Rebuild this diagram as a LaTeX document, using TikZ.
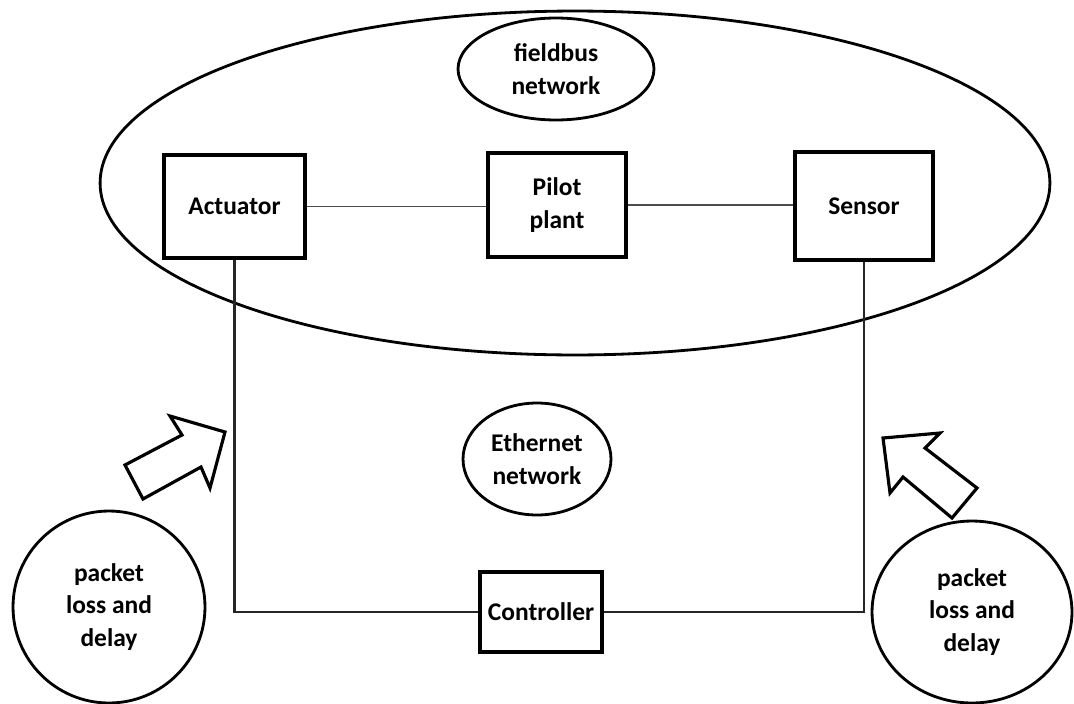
\documentclass[tikz,border=0pt]{standalone}
\usepackage{fontspec}
\setmainfont{Carlito}
\usetikzlibrary{shapes.geometric}

\tikzset{
	labelfont/.style={font=\fontsize{14.5}{18.5}\selectfont\bfseries},
	blockbox/.style={draw, line width=2.2pt, align=center, labelfont},
	netcloud/.style={draw, ellipse, line width=1.6pt, align=center, labelfont, inner sep=0pt},
	link/.style={line width=1.1pt, black!70},
	bus/.style={line width=1.2pt, black!85},
	fatarrow/.style={draw, line width=1.8pt, line join=miter, fill=white}
}

\begin{document}
\begin{tikzpicture}[x=0.02cm, y=-0.02cm]
	\useasboundingbox (0,0) rectangle (1074,703);
	\clip (0,0) rectangle (1074,703);

	% plant side
	\node[netcloud, minimum width=19cm, minimum height=6.88cm] (plantnet) at (575,183){};
	\node[netcloud, minimum width=3.92cm, minimum height=2.04cm] (fieldbus) at (556,69){fieldbus\\network};

	\node[blockbox, minimum width=2.82cm, minimum height=2.06cm] (act) at (234.5,206.5){Actuator};
	\node[blockbox, minimum width=2.76cm, minimum height=2.08cm] (plant) at (557,205){Pilot\\plant};
	\node[blockbox, minimum width=2.76cm, minimum height=2.16cm] (sens) at (864,206){Sensor};

	\draw[link] (act.east) -- (act.east -| plant.west);
	\draw[link] (plant.east) -- (plant.east -| sens.west);

	% ethernet side
	\node[netcloud, minimum width=2.96cm, minimum height=2.24cm] (ether) at (537,459){Ethernet\\network};
	\node[blockbox, minimum width=2.44cm, minimum height=1.6cm] (ctrl) at (541,612){Controller};

	\draw[bus] (act.south) |- (ctrl.west);
	\draw[bus] (sens.south) |- (ctrl.east);

	% disturbances
	\node[netcloud, minimum width=3.84cm, minimum height=3.84cm] (lossl) at (109,607){packet\\loss and\\delay};
	\node[netcloud, minimum width=4.0cm, minimum height=3.64cm] (lossr) at (972,612){packet\\loss and\\delay};

	\draw[fatarrow] (225,432) -- (170,416) -- (182,435) -- (125,465) -- (143,499) -- (201,467) -- (210,488) -- cycle;
	\draw[fatarrow] (883,438) -- (940,433) -- (925,448) -- (977,488) -- (952,518) -- (903,477) -- (890,493) -- cycle;
\end{tikzpicture}
\end{document}
